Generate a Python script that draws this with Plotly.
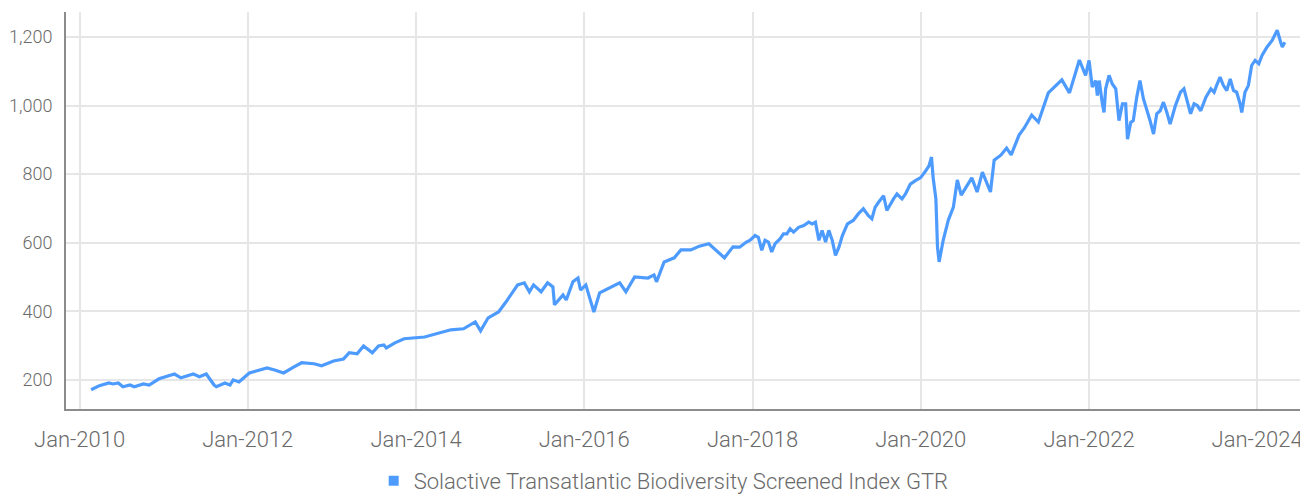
import plotly.graph_objects as go

dates = [
    "2010-02-20", "2010-03-28", "2010-05-08", "2010-05-26", "2010-06-18", "2010-07-08", "2010-08-08",
    "2010-08-26", "2010-10-05", "2010-10-30", "2010-12-12", "2011-01-15", "2011-02-17", "2011-03-17",
    "2011-05-10", "2011-06-05", "2011-07-05", "2011-08-08", "2011-08-18", "2011-09-24", "2011-10-16",
    "2011-10-30", "2011-11-24", "2012-01-08", "2012-02-17", "2012-03-25", "2012-04-27", "2012-06-05",
    "2012-07-20", "2012-08-22", "2012-10-15", "2012-11-17", "2013-01-08", "2013-02-20", "2013-03-17",
    "2013-04-20", "2013-05-18", "2013-06-25", "2013-07-22", "2013-08-14", "2013-08-25", "2013-10-01",
    "2013-11-10", "2014-02-07", "2014-06-01", "2014-07-26", "2014-09-15", "2014-10-08", "2014-11-10",
    "2014-12-25", "2015-01-26", "2015-03-18", "2015-04-16", "2015-05-08", "2015-05-26", "2015-06-28",
    "2015-07-26", "2015-08-18", "2015-08-25", "2015-10-01", "2015-10-15", "2015-11-13", "2015-12-05",
    "2015-12-16", "2016-01-08", "2016-01-30", "2016-02-12", "2016-03-08", "2016-04-27", "2016-06-03",
    "2016-06-30", "2016-08-07", "2016-10-04", "2016-10-30", "2016-11-10", "2016-12-13", "2017-01-26",
    "2017-02-24", "2017-04-08", "2017-05-15", "2017-06-25", "2017-07-16", "2017-09-01", "2017-10-08",
    "2017-11-06", "2017-12-05", "2017-12-20", "2018-01-12", "2018-01-26", "2018-02-10", "2018-02-24",
    "2018-03-11", "2018-03-25", "2018-04-09", "2018-05-01", "2018-05-15", "2018-05-30", "2018-06-13",
    "2018-06-28", "2018-07-20", "2018-08-11", "2018-09-02", "2018-09-17", "2018-10-01", "2018-10-16",
    "2018-10-30", "2018-11-14", "2018-11-28", "2018-12-13", "2018-12-27", "2019-01-11", "2019-01-26",
    "2019-02-17", "2019-03-14", "2019-04-05", "2019-04-27", "2019-05-19", "2019-06-03", "2019-06-17",
    "2019-07-02", "2019-07-24", "2019-08-07", "2019-08-22", "2019-09-05", "2019-09-20", "2019-10-12",
    "2019-10-27", "2019-11-17", "2019-12-09", "2020-01-01", "2020-01-23", "2020-02-06", "2020-02-17",
    "2020-02-24", "2020-03-07", "2020-03-14", "2020-03-21", "2020-04-08", "2020-04-30", "2020-05-22",
    "2020-06-08", "2020-06-25", "2020-08-10", "2020-09-02", "2020-09-25", "2020-10-30", "2020-11-15",
    "2020-12-15", "2021-01-08", "2021-01-28", "2021-03-03", "2021-03-25", "2021-04-27", "2021-05-26",
    "2021-07-08", "2021-07-30", "2021-09-05", "2021-10-08", "2021-11-20", "2021-12-17", "2022-01-01",
    "2022-01-15", "2022-01-30", "2022-02-06", "2022-02-14", "2022-02-28", "2022-03-07", "2022-03-14",
    "2022-03-29", "2022-04-12", "2022-04-27", "2022-05-11", "2022-05-26", "2022-06-09", "2022-06-17",
    "2022-07-01", "2022-07-12", "2022-07-27", "2022-08-10", "2022-08-25", "2022-09-09", "2022-09-23",
    "2022-10-08", "2022-10-22", "2022-11-06", "2022-11-20", "2022-12-05", "2022-12-19", "2023-01-11",
    "2023-02-02", "2023-02-17", "2023-03-04", "2023-03-18", "2023-04-02", "2023-04-16", "2023-05-01",
    "2023-05-23", "2023-06-14", "2023-06-28", "2023-07-09", "2023-07-24", "2023-08-07", "2023-08-22",
    "2023-09-06", "2023-09-20", "2023-10-04", "2023-10-19", "2023-10-26", "2023-11-09", "2023-11-24",
    "2023-12-08", "2023-12-23", "2024-01-08", "2024-01-22", "2024-02-13", "2024-03-06", "2024-03-28",
    "2024-04-12", "2024-04-19", "2024-04-30",
]

index_values = [
    171, 183, 191, 188, 191, 180, 185,
    180, 188, 185, 203, 209, 217, 206,
    217, 209, 217, 185, 180, 191, 185,
    200, 194, 220, 229, 235, 229, 220,
    238, 250, 247, 241, 255, 261, 279,
    276, 299, 279, 299, 302, 293, 308,
    320, 325, 346, 349, 369, 343, 381,
    398, 427, 477, 483, 457, 477, 457,
    483, 471, 419, 448, 433, 486, 497,
    462, 477, 427, 398, 454, 471, 483,
    457, 500, 497, 506, 486, 544, 556,
    579, 579, 590, 597, 585, 556, 588,
    587, 602, 607, 621, 616, 578, 607,
    602, 573, 597, 612, 626, 626, 641,
    631, 645, 650, 660, 655, 660, 607,
    636, 602, 636, 607, 563, 587, 621,
    655, 665, 684, 699, 679, 670, 703,
    718, 737, 694, 713, 728, 742, 728,
    742, 771, 781, 790, 810, 824, 850,
    790, 728, 587, 544, 608, 666, 704,
    783, 739, 789, 748, 806, 748, 841,
    856, 876, 856, 914, 934, 972, 952,
    1037, 1051, 1075, 1037, 1133, 1088, 1132,
    1054, 1073, 1029, 1073, 1005, 980, 1049,
    1088, 1063, 1049, 956, 1005, 1005, 902,
    951, 956, 1024, 1073, 1020, 990, 956,
    917, 976, 985, 1010, 980, 946, 1000,
    1039, 1049, 1015, 976, 1005, 1000, 985,
    1024, 1049, 1039, 1059, 1083, 1059, 1044,
    1078, 1044, 1039, 1005, 980, 1039, 1059,
    1117, 1132, 1122, 1146, 1171, 1190, 1220,
    1185, 1171, 1185,
]

series_name = "Solactive Transatlantic Biodiversity Screened Index GTR"
y_ticks = [200, 400, 600, 800, 1000, 1200]

FONT = "Roboto, sans-serif"
BLUE = "#4d9bff"
TXT = "#6a6a6a"

fig = go.Figure()
fig.add_trace(go.Scatter(
    x=dates, y=index_values, mode="lines",
    line=dict(color=BLUE, width=3.2), showlegend=False, name=series_name,
))
fig.add_trace(go.Scatter(
    x=[None], y=[None], mode="markers", name=series_name,
    marker=dict(symbol="square", size=10, color=BLUE), showlegend=True,
))

# page body has an 8px default margin, so the figure is sized/offset accordingly
fig.update_layout(
    width=1300, height=487,
    margin=dict(l=58, r=2, t=4, b=86, autoexpand=False),
    paper_bgcolor="white", plot_bgcolor="white",
    font=dict(family=FONT, size=22, color=TXT, weight=300),
    legend=dict(orientation="h", x=0.482, xanchor="center", y=-0.181, yanchor="middle",
                font=dict(size=22, color=TXT, weight=300), itemwidth=30),
    xaxis=dict(
        type="date", range=["2009-11-03", "2024-07-31"], automargin=False,
        tick0="2010-01-01", dtick="M24", tickformat="%b-%Y",
        tickfont=dict(size=22, color=TXT, weight=300),
        showgrid=True, gridcolor="#e6e6e6", gridwidth=2,
        showline=True, linecolor="#8c8c8c", linewidth=2,
        ticks="", ticklabelstandoff=10, zeroline=False,
    ),
    yaxis=dict(
        range=[115, 1273], tickvals=y_ticks, tickformat=",d", automargin=False,
        tickfont=dict(size=18, color=TXT, weight=300),
        showgrid=True, gridcolor="#e6e6e6", gridwidth=2,
        showline=True, linecolor="#8c8c8c", linewidth=2,
        ticks="", ticklabelstandoff=8, zeroline=False,
    ),
)

fig.write_html("out.html")
